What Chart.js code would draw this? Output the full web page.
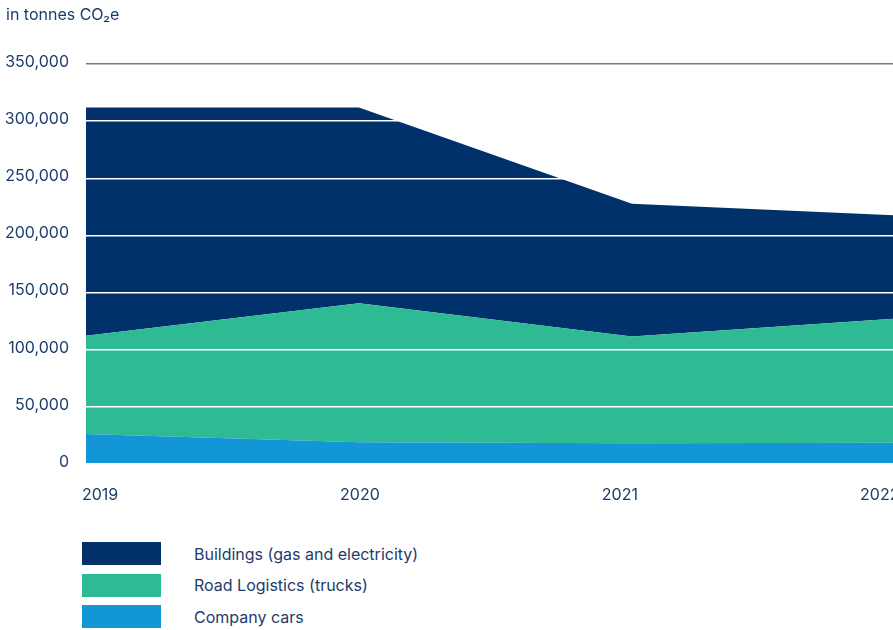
<!DOCTYPE html>
<html>
<head>
<meta charset="utf-8">
<script src="https://cdn.jsdelivr.net/npm/chart.js@4"></script>
<style>
  body { margin: 0; width: 893px; height: 630px; overflow: hidden; background: #fff; font-family: Inter, sans-serif; color: #1b3c6c; position: relative; }
  #unit { position: absolute; left: 6px; top: 4px; font-size: 16px; }
  #wrap { position: absolute; left: 0; top: 0; width: 922px; height: 520px; }
  #legend { position: absolute; left: 82px; top: 542px; }
  .row { display: flex; align-items: center; height: 23px; margin-bottom: 8.5px; }
  .box { width: 79px; height: 23px; margin-right: 33px; }
  .row span { font-size: 16px; }
</style>
</head>
<body>
<div id="wrap"><canvas id="chart" width="922" height="520"></canvas></div>
<div id="unit">in tonnes CO₂e</div>
<div id="legend"></div>
<script>
var years = [2019, 2020, 2021, 2022];
var companyCars = [26300, 19000, 18200, 18700];
var roadLogistics = [86000, 121600, 93300, 109000];
var buildings = [199700, 171400, 116300, 89500];
var yTicks = [0, 50000, 100000, 150000, 200000, 250000, 300000, 350000];

var seriesNames = ['Company cars', 'Road Logistics (trucks)', 'Buildings (gas and electricity)'];
var seriesColors = ['#1396d6', '#2eba93', '#00316a'];
var textColor = '#1b3c6c';

function points(vals){
  return vals.map(function(v, i){ return {x: years[i], y: v}; });
}

var ctx = document.getElementById('chart').getContext('2d');
var chart = new Chart(ctx, {
  type: 'line',
  data: {
    datasets: [
      { label: seriesNames[0], data: points(companyCars), backgroundColor: seriesColors[0], fill: 'origin' },
      { label: seriesNames[1], data: points(roadLogistics), backgroundColor: seriesColors[1], fill: '-1' },
      { label: seriesNames[2], data: points(buildings), backgroundColor: seriesColors[2], fill: '-1' }
    ]
  },
  options: {
    responsive: false,
    animation: false,
    locale: 'en-US',
    layout: { padding: { top: 64, right: 8, left: 0, bottom: 0 } },
    elements: { point: { radius: 0 }, line: { borderWidth: 0, tension: 0 } },
    plugins: { legend: { display: false }, tooltip: { enabled: false } },
    scales: {
      x: {
        type: 'linear', min: years[0], max: years[years.length - 1],
        display: false
      },
      years: {
        type: 'linear', position: 'bottom',
        min: years[0] - 14 / 259, max: years[years.length - 1] + 25 / 259,
        grid: { display: false, drawTicks: false },
        border: { display: false },
        afterBuildTicks: function(s){ s.ticks = years.map(function(y){ return {value: y}; }); },
        afterFit: function(s){ s.height = 56; },
        ticks: {
          padding: 22, color: textColor, maxRotation: 0, autoSkip: false,
          font: { family: 'Inter', size: 16 },
          callback: function(v){ return String(v); }
        }
      },
      y: {
        stacked: true, min: 0, max: yTicks[yTicks.length - 1],
        afterBuildTicks: function(s){ s.ticks = yTicks.map(function(v){ return {value: v}; }); },
        afterFit: function(s){ s.width = 86; },
        border: { display: false },
        grid: {
          z: 1,
          drawTicks: false,
          lineWidth: 1.5,
          color: function(c){ return c.tick && c.tick.value === yTicks[yTicks.length - 1] ? '#7a7a7a' : '#ffffff'; }
        },
        ticks: {
          padding: 17, color: textColor, labelOffset: -2,
          font: { family: 'Inter', size: 16 },
          callback: function(v){ return v.toLocaleString('en-US'); }
        }
      }
    }
  }
});

// legend, top of the stack first
var legend = document.getElementById('legend');
for (var i = seriesNames.length - 1; i >= 0; i--) {
  var row = document.createElement('div');
  row.className = 'row';
  row.innerHTML = '<div class="box" style="background:' + seriesColors[i] + '"></div><span>' + seriesNames[i] + '</span>';
  legend.appendChild(row);
}
</script>
</body>
</html>
